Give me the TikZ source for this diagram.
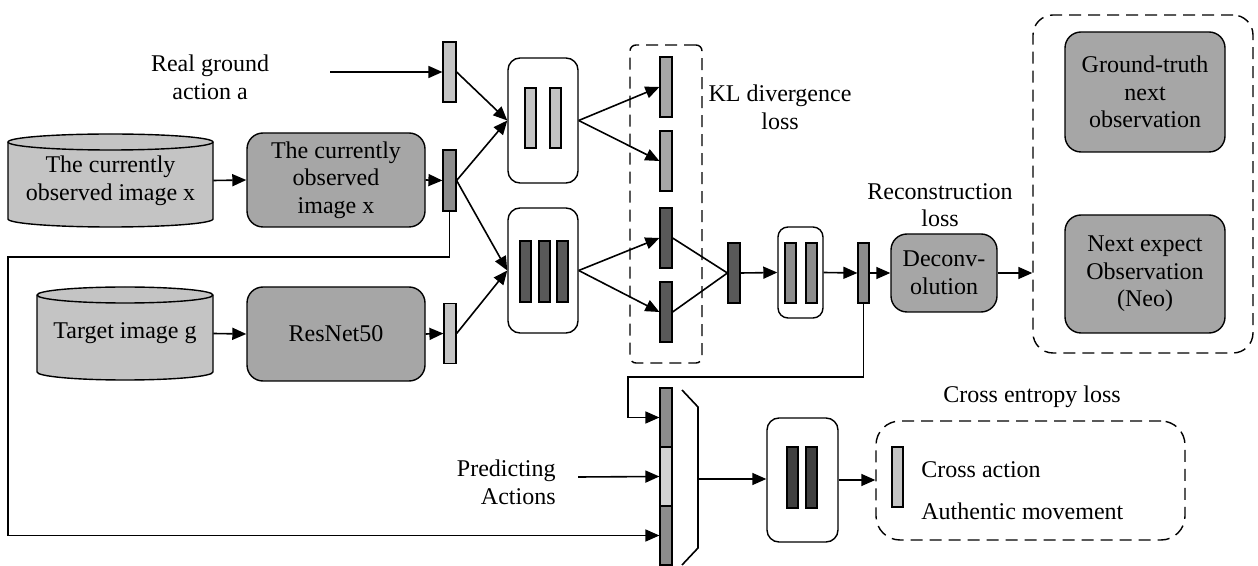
\documentclass[tikz,border=0pt]{standalone}
\usepackage{fontspec}
\setmainfont{Liberation Serif}
\usetikzlibrary{arrows.meta}
\definecolor{gA}{HTML}{C4C4C4}
\definecolor{gB}{HTML}{A6A6A6}
\definecolor{gC}{HTML}{8C8C8C}
\definecolor{gD}{HTML}{595959}
\definecolor{gE}{HTML}{404040}
\definecolor{gF}{HTML}{D2D2D2}
\tikzset{
  ln/.style={line width=0.8pt},
  arr/.style={ln,-{Triangle[length=7pt,width=6pt]}},
  vbar/.style={draw,line width=0.6pt,inner sep=0pt,minimum width=6pt,minimum height=30pt},
  gbox/.style={draw,line width=0.7pt,fill=gB,rounded corners=8pt,align=center,inner sep=0pt},
  wbox/.style={draw,line width=0.7pt,fill=white,rounded corners=6pt,inner sep=0pt},
  dbox/.style={draw,line width=0.7pt,dash pattern=on 6pt off 3.5pt,inner sep=0pt},
  cylbody/.style={draw,line width=0.7pt,fill=gA},
  txt/.style={align=center,inner sep=0pt},
}
\begin{document}
\begin{tikzpicture}[x=0.5pt,y=-0.5pt,font=\fontsize{12}{13.8}\selectfont]
\useasboundingbox (0,0) rectangle (1258,566);

% ---- inputs ----
\node[txt] (realtxt) at (210,77) {Real ground\\action a};
\coordinate (ra) at (330,72);

% cylinder: current observation
\path[cylbody] (8,142) -- (8,219) arc(180:0:102.5 and 8) -- (213,142) arc(0:-180:102.5 and 8) -- cycle;
\draw[line width=0.7pt] (8,142) arc(180:0:102.5 and 8);
\node[txt,minimum width=102.5pt,minimum height=46.5pt] (cyl1) at (110.5,180.5) {The currently\\observed image x};

% cylinder: target image
\path[cylbody] (37,295) -- (37,372) arc(180:0:88 and 8) -- (213,295) arc(0:-180:88 and 8) -- cycle;
\draw[line width=0.7pt] (37,295) arc(180:0:88 and 8);
\node[txt,minimum width=88pt,minimum height=46.5pt] (cyl2) at (125,333.5) {Target image g};

% encoders
\node[gbox,minimum width=89pt,minimum height=47pt] (box1) at (336,180) {The currently\\observed\\image x};
\node[gbox,minimum width=89pt,minimum height=47pt] (resnet) at (336,334) {ResNet50};

% feature bars
\node[vbar,fill=gA,minimum width=6.5pt] (barA) at (449.5,72) {};
\node[vbar,fill=gC,minimum width=6.5pt,minimum height=30.5pt] (barB) at (449.5,180.5) {};
\node[vbar,fill=gA] (barC) at (450,333.5) {};

% two latent blocks
\node[wbox,minimum width=35pt,minimum height=62.5pt] (upbox) at (543,120.5) {};
\node[vbar,fill=gA,minimum width=5.5pt] (ub1) at (530.5,118) {};
\node[vbar,fill=gA,minimum width=5.5pt] (ub2) at (555.5,118) {};
\node[wbox,minimum width=35pt,minimum height=62.5pt] (lobox) at (543,270.5) {};
\node[vbar,fill=gD,minimum width=5.5pt,minimum height=30.5pt] (lb1) at (525.5,271.5) {};
\node[vbar,fill=gD,minimum width=5.5pt,minimum height=30.5pt] (lb2) at (544.5,271.5) {};
\node[vbar,fill=gD,minimum width=5.5pt,minimum height=30.5pt] (lb3) at (562.5,271.5) {};

% KL divergence group
\node[dbox,rounded corners=3pt,minimum width=36pt,minimum height=159pt] (kldash) at (666,204) {};
\node[vbar,fill=gB] (k1) at (666,87) {};
\node[vbar,fill=gB] (k2) at (666,161) {};
\node[vbar,fill=gD] (k3) at (666,238) {};
\node[vbar,fill=gD] (k4) at (666,312) {};
\node[txt] (kltxt) at (780,107) {KL divergence\\loss};

% decoder path
\node[vbar,fill=gD] (bar5) at (734,273) {};
\node[wbox,rounded corners=5pt,minimum width=22.5pt,minimum height=45.5pt] (smbox) at (800.5,272.5) {};
\node[vbar,fill=gC,minimum width=5.5pt] (sb1) at (790.5,273) {};
\node[vbar,fill=gC,minimum width=5.5pt] (sb2) at (811.5,273) {};
\node[vbar,fill=gC,minimum width=5.5pt] (bar6) at (863.5,273) {};
\node[gbox,minimum width=53pt,minimum height=39pt] (deconv) at (944,273) {Deconv-\\olution};
\node[txt] (recon) at (940,205) {Reconstruction\\loss};

% observation targets
\node[dbox,rounded corners=10pt,minimum width=110pt,minimum height=169pt] (rdash) at (1143,184) {};
\node[gbox,minimum width=80pt,minimum height=60pt] (gt) at (1145,92) {Ground-truth\\next\\observation};
\node[gbox,minimum width=80pt,minimum height=59pt] (neo) at (1145,274) {Next expect\\Observation\\(Neo)};

% action prediction
\node[vbar,fill=gC,minimum height=29.5pt] (t1) at (666,417.5) {};
\node[vbar,fill=gF,minimum height=29.5pt] (t2) at (666,476.5) {};
\node[vbar,fill=gC,minimum height=29.5pt] (t3) at (666,535.5) {};
\draw[ln] (682,390) -- (698,407) -- (698,548) -- (682,565);
\coordinate (trapout) at (698,479);
\node[txt,align=right,anchor=east] (pred) at (556,482) {Predicting\\Actions};
\coordinate (pa) at (578,477);

\node[wbox,minimum width=35.5pt,minimum height=62pt] (botbox) at (802.5,480) {};
\node[vbar,fill=gE,minimum width=5.5pt,minimum height=30.5pt] (bb1) at (792.5,477.5) {};
\node[vbar,fill=gE,minimum width=5.5pt,minimum height=30.5pt] (bb2) at (811.5,477.5) {};

\node[dbox,rounded corners=12pt,minimum width=154.5pt,minimum height=59.5pt] (bdash) at (1030.5,480.5) {};
\node[vbar,fill=gA,minimum width=5.5pt] (bar7) at (897.5,477) {};
\node[txt,anchor=west] (ca) at (921,470) {Cross action};
\node[txt,anchor=west] (am) at (921,511) {Authentic movement};
\node[txt] (cel) at (1032,397) {Cross entropy loss};

% feedback wire coordinates
\coordinate (lw1) at (8,257);
\coordinate (fb) at (628,377);

% ---- connectors ----
\draw[arr] (ra) -- (barA.west);
\draw[arr] (cyl1.east) -- (box1.west);
\draw[arr] (box1.east) -- (barB.west);
\draw[arr] (cyl2.east) -- (resnet.west);
\draw[arr] (resnet.east) -- (barC.west);
\draw[arr] (barA.east) -- (upbox.west);
\draw[arr] (barB.east) -- (upbox.west);
\draw[arr] (barB.east) -- (lobox.west);
\draw[arr] (barC.east) -- (lobox.west);
\draw[arr] (upbox.east) -- (k1.west);
\draw[arr] (upbox.east) -- (k2.west);
\draw[arr] (lobox.east) -- (k3.west);
\draw[arr] (lobox.east) -- (k4.west);
\draw[ln] (k3.east) -- (bar5.west);
\draw[ln] (k4.east) -- (bar5.west);
\draw[arr] (bar5.east) -- (smbox.west);
\draw[arr] (smbox.east) -- (bar6.west);
\draw[arr] (bar6.east) -- (deconv.west);
\draw[arr] (deconv.east) -- (deconv.east -| rdash.west);
\draw[arr] (barB.south) |- (lw1) |- (t3.west);
\draw[arr] (bar6.south) |- (fb) |- (t1.west);
\draw[arr] (pa) -- (t2.west);
\draw[arr] (trapout) -- (trapout -| botbox.west);
\draw[arr] (botbox.east) -- (botbox.east -| bdash.west);
\end{tikzpicture}
\end{document}
